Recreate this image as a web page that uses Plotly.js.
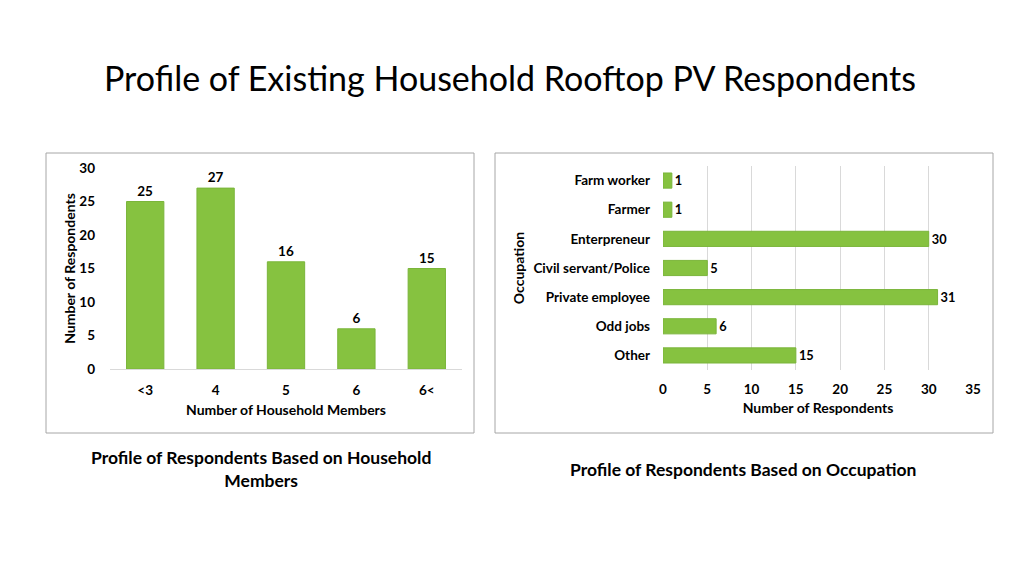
<!DOCTYPE html>
<html>
<head>
<meta charset="utf-8">
<script src="https://cdn.plot.ly/plotly-3.0.1.min.js"></script>
<style>
  html, body { margin: 0; padding: 0; background: #ffffff; }
  #chart { width: 1024px; height: 576px; }
</style>
</head>
<body>
<div id="chart"></div>
<script>
// Left chart data
const householdCategories = ['<3', '4', '5', '6', '6<'];
const householdCounts = [25, 27, 16, 6, 15];

// Right chart data
const occupationCategories = ['Farm worker', 'Farmer', 'Enterpreneur', 'Civil servant/Police', 'Private employee', 'Odd jobs', 'Other'];
const occupationCounts = [1, 1, 30, 5, 31, 6, 15];

const mainTitle = 'Profile of Existing Household Rooftop PV Respondents';
const leftCaption = 'Profile of Respondents Based on Household<br>Members';
const rightCaption = 'Profile of Respondents Based on Occupation';

const W = 1024, H = 576;
const px = x => x / W;
const py = y => 1 - y / H;

const FONT = 'Lato, "Open Sans", sans-serif';
const GREEN = '#86c240';
const GREEN_LINE = '#7ab53a';

const traces = [
  {
    type: 'bar',
    x: householdCategories,
    y: householdCounts,
    xaxis: 'x', yaxis: 'y',
    marker: { color: GREEN, line: { color: GREEN_LINE, width: 1 } },
    width: 0.53,
    text: householdCounts.map(String),
    textposition: 'outside',
    cliponaxis: false,
    textfont: { family: FONT, size: 13.5, color: '#000000', weight: 'bold' },
    hoverinfo: 'x+y'
  },
  {
    type: 'bar',
    orientation: 'h',
    y: occupationCategories,
    x: occupationCounts,
    xaxis: 'x2', yaxis: 'y2',
    marker: { color: GREEN, line: { color: GREEN_LINE, width: 1 } },
    width: 0.52,
    text: occupationCounts.map(String),
    textposition: 'outside',
    cliponaxis: false,
    textfont: { family: FONT, size: 13.5, color: '#000000', weight: 'bold' },
    hoverinfo: 'x+y'
  }
];

const tickFont = { family: FONT, size: 13.5, color: '#000000', weight: 'bold' };
const titleFont = { family: FONT, size: 14, color: '#000000', weight: 'bold' };

const layout = {
  width: W, height: H,
  margin: { l: 0, r: 0, t: 0, b: 0 },
  paper_bgcolor: '#ffffff',
  plot_bgcolor: 'rgba(0,0,0,0)',
  showlegend: false,
  font: { family: FONT, color: '#000000' },
  title: {
    text: mainTitle,
    font: { family: FONT, size: 34, color: '#000000' },
    x: 0.498, xanchor: 'center',
    y: py(79), yanchor: 'middle'
  },
  xaxis: {
    domain: [px(110), px(462)],
    anchor: 'y',
    type: 'category',
    tickfont: tickFont,
    showgrid: false,
    showline: true, linecolor: '#d9d9d9', linewidth: 1,
    ticks: '', ticklabelstandoff: 9,
    zeroline: false,
    title: { text: 'Number of Household Members', font: titleFont, standoff: 7 }
  },
  yaxis: {
    domain: [py(369), py(168)],
    anchor: 'x',
    range: [0, 30],
    dtick: 5,
    tickfont: tickFont,
    showgrid: false,
    zeroline: false,
    showline: false,
    ticks: '', ticklabelstandoff: 14,
    title: { text: 'Number of Respondents', font: titleFont, standoff: 0 }
  },
  xaxis2: {
    domain: [px(663), px(973)],
    anchor: 'y2',
    range: [0, 35],
    dtick: 5,
    tickfont: tickFont,
    showgrid: true, gridcolor: '#d9d9d9', gridwidth: 1,
    zeroline: false, showline: false,
    ticks: '', ticklabelstandoff: 9,
    title: { text: 'Number of Respondents', font: titleFont, standoff: 7 }
  },
  yaxis2: {
    domain: [py(370), py(166)],
    anchor: 'x2',
    type: 'category',
    autorange: 'reversed',
    tickfont: tickFont,
    showgrid: false, zeroline: false, showline: false,
    ticks: '', ticklabelstandoff: 12,
    title: { text: 'Occupation', font: titleFont, standoff: 5 }
  },
  shapes: [
    { type: 'rect', xref: 'paper', yref: 'paper', x0: px(46), x1: px(474), y0: py(433), y1: py(153), line: { color: '#a6a6a6', width: 1 }, fillcolor: 'rgba(0,0,0,0)' },
    { type: 'rect', xref: 'paper', yref: 'paper', x0: px(495), x1: px(993), y0: py(433), y1: py(153), line: { color: '#a6a6a6', width: 1 }, fillcolor: 'rgba(0,0,0,0)' }
  ],
  annotations: [
    { text: leftCaption, xref: 'paper', yref: 'paper', x: px(261), y: py(469), xanchor: 'center', yanchor: 'middle', showarrow: false, align: 'center', font: { family: FONT, size: 17.5, weight: 'bold', color: '#000000' } },
    { text: rightCaption, xref: 'paper', yref: 'paper', x: px(743), y: py(469), xanchor: 'center', yanchor: 'middle', showarrow: false, align: 'center', font: { family: FONT, size: 17.5, weight: 'bold', color: '#000000' } }
  ]
};

Plotly.newPlot('chart', traces, layout, { displayModeBar: false, staticPlot: true });
</script>
</body>
</html>
